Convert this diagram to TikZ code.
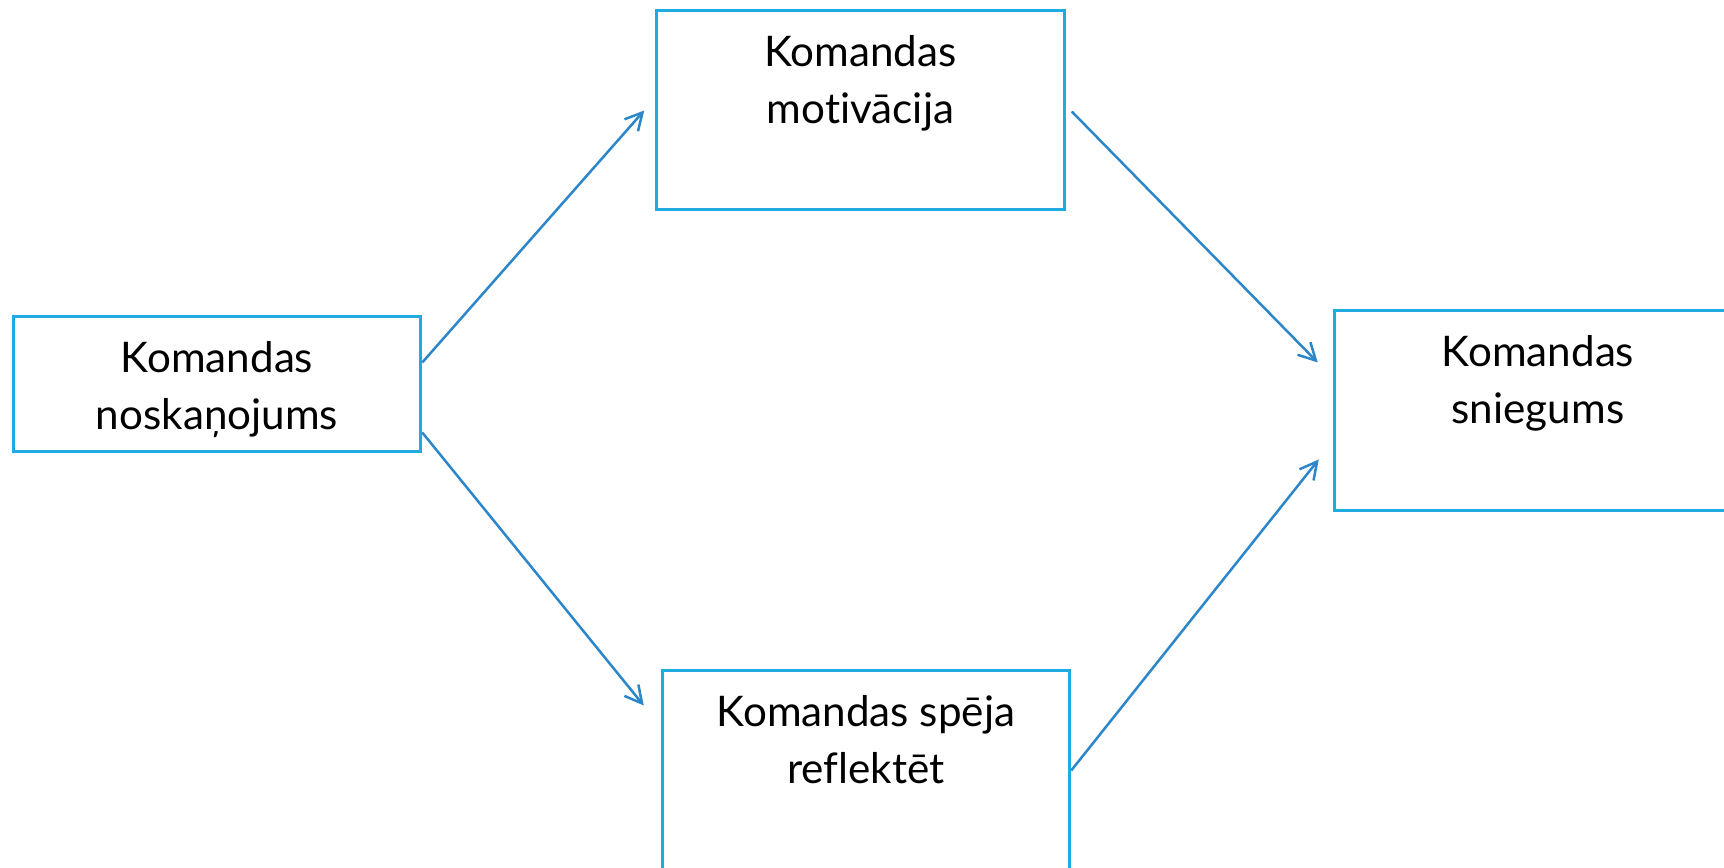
\documentclass[tikz,border=0pt]{standalone}
\usepackage{fontspec}
\setmainfont{Lato}[Ligatures=NoCommon, RawFeature=-calt]
\usetikzlibrary{arrows.meta,positioning,calc}
\definecolor{boxblue}{RGB}{32,170,226}
\definecolor{arrowblue}{RGB}{44,134,202}

\begin{document}
\begin{tikzpicture}[
    box/.style={draw=boxblue, line width=0.06cm, inner sep=0pt, minimum width=8.15cm},
    txt/.style={anchor=north, align=center, inner sep=0pt, font=\fontsize{24}{32.4}\selectfont},
    link/.style={draw=arrowblue, line width=0.05cm, -{Straight Barb[length=3.4mm,width=3.6mm]}}]
    \useasboundingbox (0,0) rectangle (34.48,17.36);
    \node[box, minimum height=2.7cm] (noskanojums) at (4.34,9.67) {};
    \node[box, minimum height=3.98cm] (motivacija) at (17.21,15.15) {};
    \node[box, minimum height=3.98cm] (reflektet) at (17.32,1.95) {};
    \node[box, minimum height=4cm] (sniegums) at (30.76,9.14) {};
    \foreach \b/\t in {noskanojums/{Komandas\\noskaņojums}, motivacija/{Komandas\\motivācija},
        reflektet/{Komandas spēja\\reflektēt}, sniegums/{Komandas\\sniegums}}
        {\node[txt] (\b-txt) at ([yshift=-0.52cm]\b.north) {\t};}
    \draw[link] ([yshift=-0.94cm]noskanojums.north east) -- ([xshift=-0.22cm,yshift=-2.02cm]motivacija.north west);
    \draw[link] ([yshift=-2.34cm]noskanojums.north east) -- ([xshift=-0.34cm,yshift=-0.72cm]reflektet.north west);
    \draw[link] ([xshift=0.12cm,yshift=-2.04cm]motivacija.north east) -- ([xshift=-0.3cm,yshift=-1.06cm]sniegums.north west);
    \draw[link] ([yshift=-2.02cm]reflektet.north east) -- ([xshift=-0.28cm,yshift=-3cm]sniegums.north west);
\end{tikzpicture}
\end{document}
